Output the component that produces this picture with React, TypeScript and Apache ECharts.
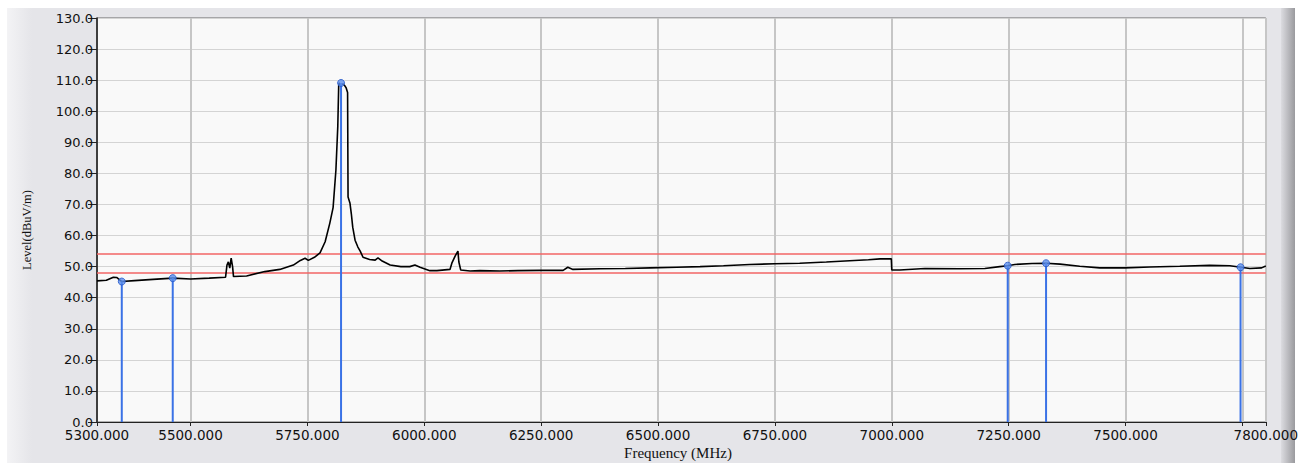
import React, { useEffect, useRef } from "react";
import * as echarts from "echarts";

const traceFreq = [
  5300, 5320, 5335, 5342, 5353, 5380, 5420, 5462, 5500, 5540, 5575, 5578, 5581, 5584, 5587, 5590, 5592,
  5620, 5659, 5691, 5720, 5735, 5745, 5752, 5765, 5777, 5788, 5798, 5805, 5811, 5815, 5817, 5818, 5821,
  5826, 5830, 5833, 5836, 5837, 5841, 5844, 5847, 5852, 5858, 5863, 5869, 5883, 5895, 5901, 5910, 5927,
  5950, 5969, 5980, 5991, 6012, 6027, 6055, 6059, 6066, 6072, 6074, 6078, 6098, 6119, 6162, 6200, 6247,
  6297, 6307, 6318, 6376, 6430, 6483, 6540, 6590, 6640, 6696, 6750, 6803, 6860, 6910, 6950, 6975, 6999,
  7000, 7017, 7071, 7146, 7199, 7231, 7248, 7263, 7300, 7330, 7360, 7402, 7445, 7498, 7552, 7616, 7680,
  7723, 7747, 7766, 7791, 7800,
];
const traceLevel = [
  45.4, 45.6, 46.6, 46.5, 45.2, 45.5, 45.9, 46.3, 46.0, 46.3, 46.6, 50.5, 51.5, 49.5, 52.7, 50.0, 46.8,
  47.0, 48.4, 49.1, 50.5, 52.0, 52.7, 52.0, 53.0, 54.4, 58.0, 64.0, 69.0, 81.0, 95.0, 108.4, 109.1, 108.5,
  108.8, 108.2, 107.5, 106.0, 72.4, 70.5, 67.0, 62.7, 58.5, 56.3, 55.0, 53.0, 52.3, 52.1, 52.8, 51.8, 50.5,
  50.0, 50.0, 50.5, 49.8, 48.7, 48.7, 49.1, 51.1, 53.4, 55.0, 51.5, 48.9, 48.6, 48.7, 48.6, 48.7, 48.8,
  48.8, 49.8, 49.1, 49.3, 49.4, 49.6, 49.8, 50.0, 50.3, 50.7, 50.9, 51.1, 51.5, 51.9, 52.2, 52.5, 52.5,
  48.9, 48.9, 49.4, 49.3, 49.4, 50.0, 50.3, 50.7, 51.0, 51.1, 50.8, 50.1, 49.6, 49.6, 49.9, 50.1, 50.4,
  50.3, 49.8, 49.4, 49.6, 50.2,
];

const markerFreq = [5353, 5462, 5822, 7248, 7330, 7746];
const markerLevel = [45.2, 46.3, 109.1, 50.3, 51.1, 49.8];

const limitLines = [54, 48];

const xTickValues = [5300, 5500, 5750, 6000, 6250, 6500, 6750, 7000, 7250, 7500, 7750, 7800];
const xLabelValues = [5300, 5500, 5750, 6000, 6250, 6500, 6750, 7000, 7250, 7500, 7800];

const xAxisTitle = "Frequency (MHz)";
const yAxisTitle = "Level(dBuV/m)";

export default function App() {
  const ref = useRef<HTMLDivElement>(null);
  useEffect(() => {
    if (!ref.current) return;
    const chart = echarts.init(ref.current, undefined, { renderer: "svg" });
    const trace = traceFreq.map((f, i) => [f, traceLevel[i]]);
    const markers = markerFreq.map((f, i) => [f, markerLevel[i]]);
    chart.setOption({
      animation: false,
      backgroundColor: "#e5e5e9",
      grid: {
        left: 97,
        top: 18,
        right: 35,
        bottom: 41,
        show: true,
        backgroundColor: "#f9f9f9",
        borderColor: "#666",
        borderWidth: 1,
      },
      graphic: [
        { type: "rect", z: -100, shape: { x: 0, y: 0, width: 1301, height: 8 }, style: { fill: "#ffffff" } },
        { type: "rect", z: -100, shape: { x: 0, y: 0, width: 7, height: 463 }, style: { fill: "#ffffff" } },
        {
          type: "rect",
          z: -100,
          shape: { x: 7, y: 8, width: 25, height: 455 },
          style: {
            fill: new echarts.graphic.LinearGradient(0, 0, 1, 0, [
              { offset: 0, color: "#f3f3f5" },
              { offset: 1, color: "#e5e5e9" },
            ]),
          },
        },
        {
          type: "rect",
          z: -100,
          shape: { x: 1281, y: 8, width: 14, height: 455 },
          style: {
            fill: new echarts.graphic.LinearGradient(0, 0, 1, 0, [
              { offset: 0, color: "#dcdce0" },
              { offset: 1, color: "#9a9a9e" },
            ]),
          },
        },
        { type: "rect", z: -100, shape: { x: 1295, y: 0, width: 6, height: 463 }, style: { fill: "#ffffff" } },
        {
          type: "text",
          x: 27,
          y: 230,
          rotation: Math.PI / 2,
          style: {
            text: yAxisTitle,
            font: "12.5px 'Liberation Serif'",
            fill: "#111",
            align: "center",
            verticalAlign: "middle",
            textAlign: "center",
            textVerticalAlign: "middle",
          },
        },
        {
          type: "text",
          x: 678,
          y: 453,
          style: {
            text: xAxisTitle,
            font: "15px 'Liberation Serif'",
            fill: "#111",
            align: "center",
            verticalAlign: "middle",
            textAlign: "center",
            textVerticalAlign: "middle",
          },
        },
      ],
      xAxis: {
        type: "value",
        min: 5300,
        max: 7800,
        axisLine: { show: true, onZero: false, lineStyle: { color: "#222", width: 1 } },
        axisTick: {
          show: true,
          customValues: xTickValues,
          length: 4,
          lineStyle: { color: "#222" },
        },
        axisLabel: {
          customValues: xLabelValues,
          formatter: (v: number) => v.toFixed(3),
          fontFamily: "DejaVu Sans",
          fontSize: 13.5,
          color: "#111",
          margin: 6,
          showMaxLabel: true,
          showMinLabel: true,
        },
        splitLine: { show: true, lineStyle: { color: "#c6c6c6", width: 2 } },
      },
      yAxis: {
        type: "value",
        min: 0,
        max: 130,
        interval: 10,
        axisLine: { show: true, onZero: false, lineStyle: { color: "#111", width: 1.5 } },
        axisTick: { show: true, length: 9, lineStyle: { color: "#222" } },
        axisLabel: {
          formatter: (v: number) => v.toFixed(1),
          fontFamily: "DejaVu Sans",
          fontSize: 13,
          color: "#111",
          margin: 4,
        },
        splitLine: { show: true, lineStyle: { color: "#d4d4d4", width: 1 } },
      },
      series: [
        {
          type: "line",
          data: trace,
          showSymbol: false,
          symbol: "none",
          lineStyle: { color: "#000", width: 1.6 },
          z: 3,
          markLine: {
            silent: true,
            symbol: "none",
            label: { show: false },
            lineStyle: { color: "#f26464", width: 1.5, type: "solid" },
            data: limitLines.map((v) => ({ yAxis: v })),
            z: 2,
          },
        },
        {
          type: "bar",
          data: markers,
          barWidth: 2,
          itemStyle: { color: "#3a72e6" },
          z: 4,
        },
        {
          type: "scatter",
          data: markers,
          symbol: "circle",
          symbolSize: 7,
          itemStyle: { color: "#5b8fee", borderColor: "#2456c8", borderWidth: 1 },
          z: 5,
        },
      ],
    });
    return () => chart.dispose();
  }, []);
  return (
    <div
      ref={ref}
      style={{ position: "fixed", left: 0, top: 0, width: 1301, height: 463 }}
    />
  );
}
